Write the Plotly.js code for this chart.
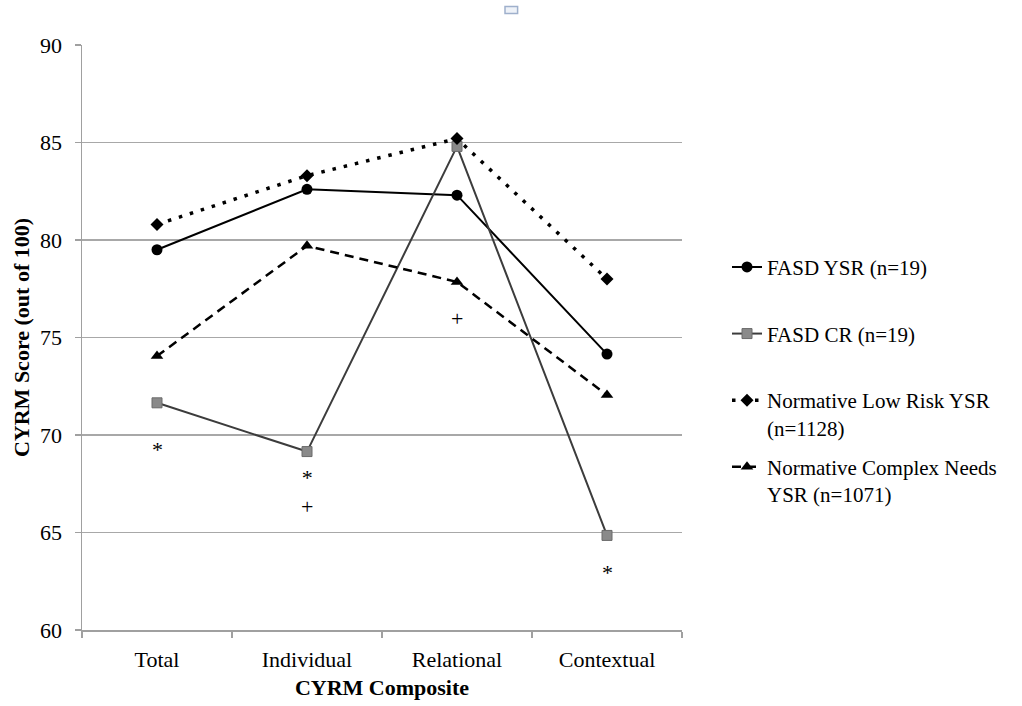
<!DOCTYPE html>
<html>
<head>
<meta charset="utf-8">
<script src="https://cdn.plot.ly/plotly-3.0.1.min.js"></script>
<style>html,body{margin:0;padding:0;background:#fff;}#chart{width:1022px;height:706px;}</style>
</head>
<body>
<div id="chart"></div>
<script>
var categories = ['Total', 'Individual', 'Relational', 'Contextual'];
var fasdYSR = [79.5, 82.6, 82.3, 74.15];
var fasdCR = [71.65, 69.15, 84.8, 64.85];
var lowRiskYSR = [80.8, 83.3, 85.2, 78.0];
var complexNeedsYSR = [74.05, 79.7, 77.85, 72.05];
var seriesNames = ['FASD YSR (n=19)', 'FASD CR (n=19)', 'Normative Low Risk YSR<br>(n=1128)', 'Normative Complex Needs<br>YSR (n=1071)'];
var yTicks = [60, 65, 70, 75, 80, 85, 90];
// significance markers placed below points
var sigCategories = ['Total', 'Individual', 'Relational', 'Contextual'];
var sigValues = [69.25, 67.1, 76.0, 62.95];
var sigSymbols = ['*', '*<br>+', '+', '*'];

var serif = '"Liberation Serif", "Times New Roman", Times, serif';

var traces = [
  {x: categories, y: fasdYSR, name: seriesNames[0] + '<br> ', legendgroup: 'a', type: 'scatter', mode: 'lines+markers',
   line: {color: '#000000', width: 2}, marker: {symbol: 'circle', size: 11, color: '#000000'}},
  {x: categories, y: fasdCR, name: seriesNames[1] + '<br> ', legendgroup: 'b', type: 'scatter', mode: 'lines+markers',
   line: {color: '#3c3c3c', width: 2}, marker: {symbol: 'square', size: 10, color: '#8a8a8a', line: {color: '#6a6a6a', width: 1}}},
  {x: categories, y: lowRiskYSR, name: seriesNames[2], legendgroup: 'c', type: 'scatter', mode: 'lines+markers',
   line: {color: '#000000', width: 3.5, dash: '3.5px,8px'}, marker: {symbol: 'diamond', size: 10, color: '#000000'}},
  {x: categories, y: complexNeedsYSR, name: seriesNames[3], legendgroup: 'd', type: 'scatter', mode: 'lines+markers',
   line: {color: '#000000', width: 2.5, dash: '9px,6px'}, marker: {symbol: 'triangle-up', size: 11, color: '#000000'}}
];

var annotations = [];
for (var i = 0; i < sigCategories.length; i++) {
  annotations.push({x: sigCategories[i], y: sigValues[i], xref: 'x', yref: 'y', text: sigSymbols[i], showarrow: false,
    font: {family: serif, size: 22, color: '#000000'}});
}

var layout = {
  width: 1022, height: 706,
  margin: {l: 82, r: 340, t: 45, b: 76},
  paper_bgcolor: '#ffffff', plot_bgcolor: '#ffffff',
  font: {family: serif, size: 22, color: '#000'},
  showlegend: true,
  legend: {x: 1.075, xanchor: 'left', y: 0.655, yanchor: 'top', valign: 'top', traceorder: 'grouped', tracegroupgap: 9,
    font: {family: serif, size: 21, color: '#000'}, bgcolor: 'rgba(0,0,0,0)'},
  xaxis: {type: 'category', categoryorder: 'array', categoryarray: categories, range: [-0.5, 3.5],
    showline: true, linecolor: '#a0a0a0', linewidth: 1.5, showgrid: false, zeroline: false,
    ticks: 'outside', tickson: 'boundaries', ticklen: 6, tickcolor: '#a0a0a0', tickwidth: 1.5, ticklabelstandoff: 9,
    tickfont: {family: serif, size: 22, color: '#000'},
    title: {text: '<b>CYRM Composite</b>', font: {family: serif, size: 22, color: '#000'}, standoff: 8}},
  yaxis: {range: [60, 90], tickvals: yTicks, ticktext: yTicks.map(String),
    showline: true, linecolor: '#a0a0a0', linewidth: 1.5, showgrid: true, gridcolor: '#a8a8a8', gridwidth: 1.5, zeroline: false,
    ticks: 'outside', ticklen: 6, tickcolor: '#a0a0a0', tickwidth: 1.5, ticklabelstandoff: 8,
    tickfont: {family: serif, size: 22, color: '#000'},
    title: {text: '<b>CYRM Score (out of 100)</b>', font: {family: serif, size: 22, color: '#000'}, standoff: 4}},
  annotations: annotations,
  shapes: [{type: 'rect', xref: 'paper', yref: 'paper', x0: 0.705, x1: 0.726, y0: 1.054, y1: 1.066,
    line: {color: '#9fb0cc', width: 1.5}, fillcolor: '#eef2f8'}]
};

Plotly.newPlot('chart', traces, layout, {displayModeBar: false, staticPlot: true});
</script>
</body>
</html>
